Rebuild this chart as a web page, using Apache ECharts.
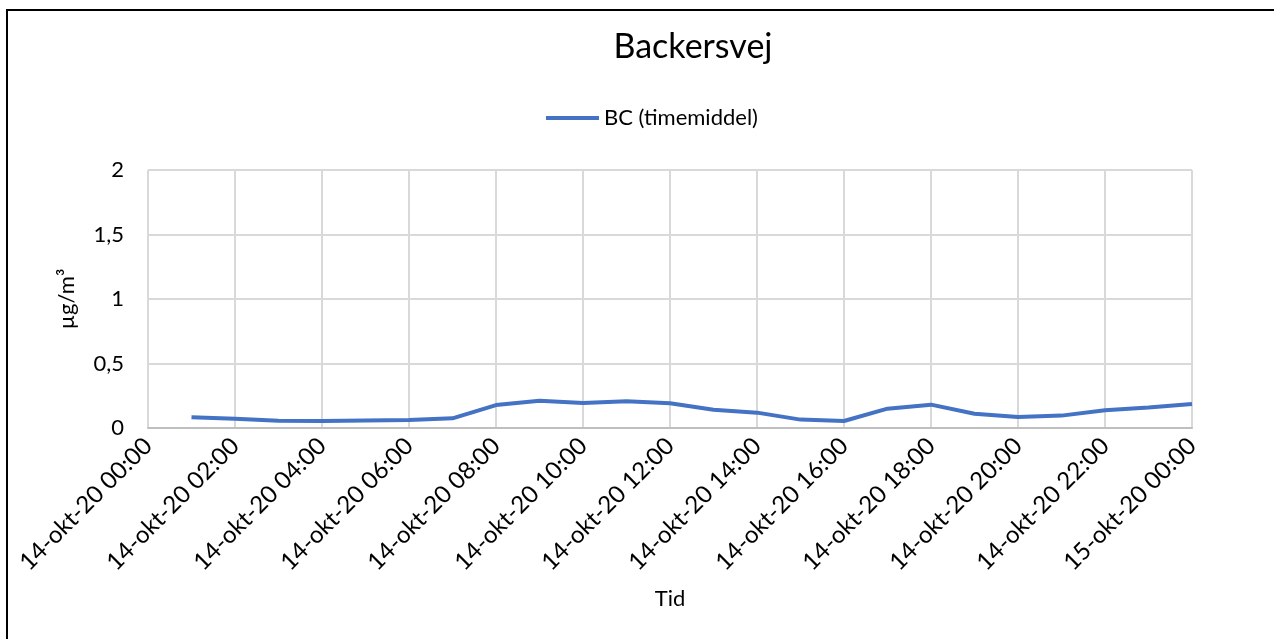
<!DOCTYPE html>
<html>
<head>
<meta charset="utf-8">
<script src="https://cdn.jsdelivr.net/npm/echarts@6/dist/echarts.min.js"></script>
<style>
html,body{margin:0;padding:0;background:#fff;}
#c{width:1274px;height:639px;}
</style>
</head>
<body>
<div id="c"></div>
<script>
// Data
const hours = [1,2,3,4,5,6,7,8,9,10,11,12,13,14,15,16,17,18,19,20,21,22,23,24];
const bcValues = [0.083,0.072,0.057,0.054,0.059,0.062,0.075,0.178,0.212,0.194,0.207,0.192,0.142,0.119,0.065,0.054,0.150,0.181,0.111,0.085,0.096,0.137,0.158,0.186];
const xTickLabels = ['14-okt-20 00:00','14-okt-20 02:00','14-okt-20 04:00','14-okt-20 06:00','14-okt-20 08:00','14-okt-20 10:00','14-okt-20 12:00','14-okt-20 14:00','14-okt-20 16:00','14-okt-20 18:00','14-okt-20 20:00','14-okt-20 22:00','15-okt-20 00:00'];
const yTickLabels = ['0','0,5','1','1,5','2'];
const titleText = 'Backersvej';
const seriesName = 'BC (timemiddel)';

const FONT = 'Lato';
const chart = echarts.init(document.getElementById('c'), null, {renderer:'canvas'});
chart.setOption({
  animation:false,
  backgroundColor:'#fff',
  title:{text:titleText,left:688,top:25,textAlign:'center',
    textStyle:{fontFamily:FONT,fontSize:34,fontWeight:'normal',color:'#000'}},
  legend:{left:541,top:102,itemWidth:53,itemHeight:4,itemGap:6,icon:'rect',
    textStyle:{fontFamily:FONT,fontSize:22,color:'#000',padding:[0,0,0,0]},
    data:[seriesName]},
  grid:{left:148,right:82,top:170,bottom:211,containLabel:false},
  xAxis:{type:'value',min:0,max:24,interval:2,
    name:'Tid',nameLocation:'middle',nameGap:160,
    nameTextStyle:{fontFamily:FONT,fontSize:22,color:'#000'},
    axisLine:{show:true,lineStyle:{color:'#bfbfbf',width:2}},
    axisTick:{show:false},
    splitLine:{show:true,lineStyle:{color:'#d9d9d9',width:2}},
    axisLabel:{rotate:45,margin:14,fontFamily:FONT,fontSize:24,color:'#000',
      formatter:v=>xTickLabels[Math.round(v/2)]}},
  yAxis:{type:'value',min:0,max:2,interval:0.5,
    name:'µg/m³',nameLocation:'middle',nameGap:70,
    nameTextStyle:{fontFamily:FONT,fontSize:22,color:'#000'},
    axisLine:{show:false},axisTick:{show:false},
    splitLine:{show:true,lineStyle:{color:'#d9d9d9',width:2}},
    axisLabel:{margin:24,fontFamily:FONT,fontSize:22,color:'#000',
      formatter:v=>yTickLabels[Math.round(v/0.5)]}},
  series:[{name:seriesName,type:'line',data:hours.map((h,i)=>[h,bcValues[i]]),
    showSymbol:false,symbol:'none',lineStyle:{color:'#4472C4',width:4},itemStyle:{color:'#4472C4'}}],
  graphic:[{type:'rect',shape:{x:7,y:10,width:1300,height:700},
    style:{fill:'none',stroke:'#000',lineWidth:2},silent:true,z:100}]
});
</script>
</body>
</html>
